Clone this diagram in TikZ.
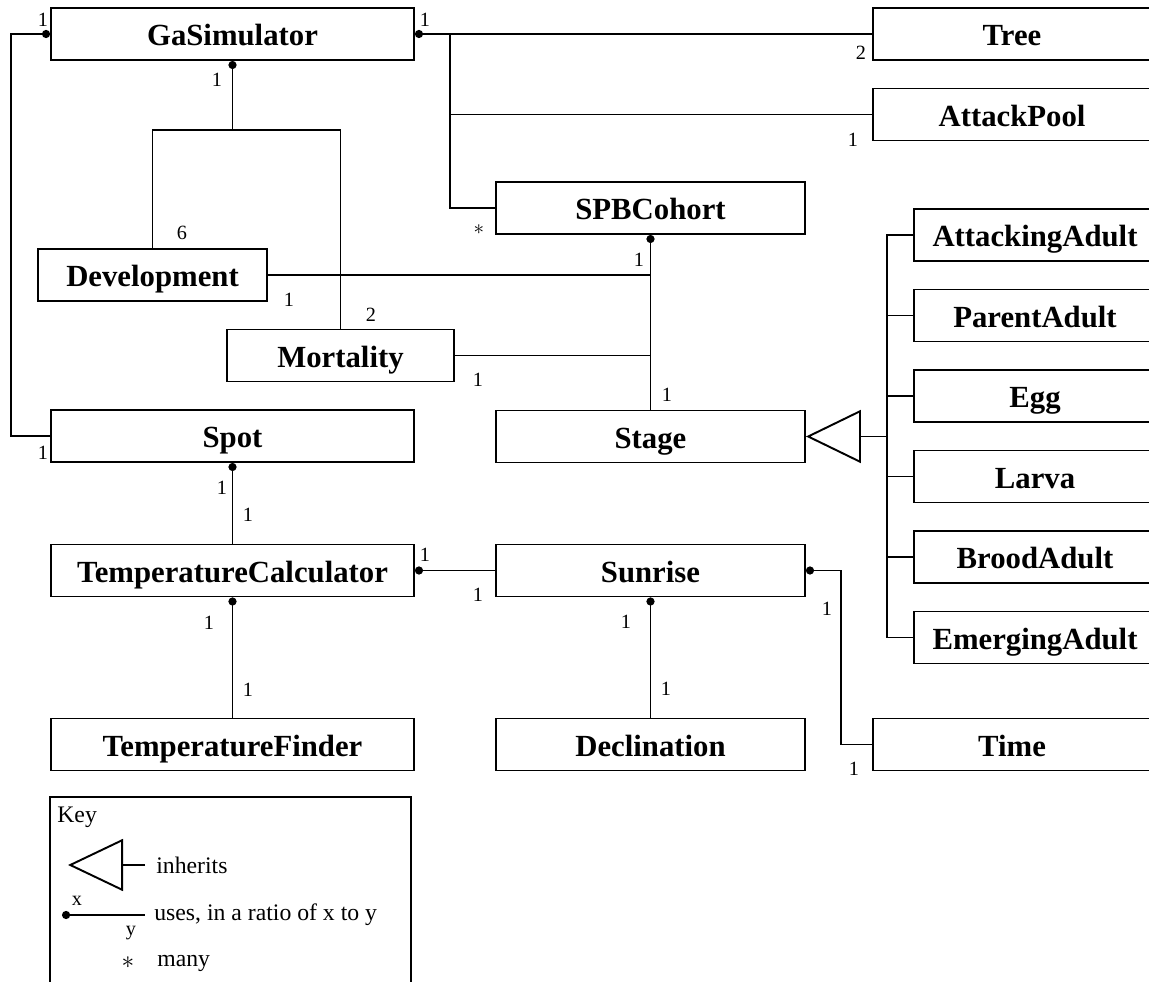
\documentclass[tikz,border=0pt]{standalone}
\usepackage{fontspec}
\setmainfont{Liberation Serif}
\usetikzlibrary{arrows.meta}

\tikzset{
  cls/.style={draw, line width=1.1pt, inner sep=0pt, minimum height=1.04cm,
    text height=15pt, text depth=1.4pt,
    font=\fontsize{17.5}{20}\selectfont\bfseries},
  wide/.style={cls, minimum width=7.26cm},
  mid/.style={cls, minimum width=6.18cm},
  far/.style={cls, minimum width=5.56cm},
  kid/.style={cls, minimum width=4.84cm},
  link/.style={line width=1.1pt},
  uses/.style={link, {Circle[length=4.6pt]}-},
  inherit/.style={link, -{Triangle[open, length=1.1cm, width=1.06cm]}},
  mult/.style={font=\fontsize{11.5}{13}\selectfont, inner sep=0pt},
  keytext/.style={font=\fontsize{13.5}{16}\selectfont, inner sep=0pt, anchor=west},
}

\begin{document}
\begin{tikzpicture}[x=0.02cm, y=-0.02cm]

            \useasboundingbox (0,0) rectangle (1149,982);
            \clip (0,0) rectangle (1149,982);

            % left column
            \node[wide] (gasim) at (232.5,34)  {GaSimulator};
            \node[wide] (spot)  at (232.5,436) {Spot};
            \node[wide] (tcalc) at (232.5,570.5) {TemperatureCalculator};
            \node[wide] (tfind) at (232.5,744.5) {TemperatureFinder};
            \node[cls, minimum width=4.58cm] (dev)  at (152.5,275)   {Development};
            \node[cls, minimum width=4.54cm] (mort) at (340.5,355.5) {Mortality};

            % middle column
            \node[mid] (spb)   at (650.5,208)   {SPBCohort};
            \node[mid] (stage) at (650.5,436.5) {Stage};
            \node[mid] (sun)   at (650.5,570.5) {Sunrise};
            \node[mid] (decl)  at (650.5,744.5) {Declination};

            % right column
            \node[far] (tree)   at (1012,34)    {Tree};
            \node[far] (attack) at (1012,114.5) {AttackPool};
            \node[far] (time)   at (1012,744.5) {Time};
            \foreach \name [count=\i] in {AttackingAdult,ParentAdult,Egg,Larva,BroodAdult,EmergingAdult} {
                \node[kid] (kid\i) at (1035,154.5+80.5*\i) {\name};
            }

            % uses
            \draw[uses] (gasim.west) -- ++(-39,0) |- (spot.west);
            \draw[uses] (gasim.east) -- (tree.west);
            \coordinate (trunk) at (450,34);
            \draw[link] (trunk) |- (attack.west);
            \draw[link] (trunk) |- (spb.west);
            \coordinate (fork) at (232.5,130);
            \draw[uses] (gasim.south) -- (fork);
            \draw[link] (dev.north) |- (fork) -| (mort.north);
            \draw[uses] (spb.south) -- (stage.north);
            \draw[link] (dev.east) -- (dev.east -| spb.south);
            \draw[link] (mort.east) -- (mort.east -| spb.south);
            \draw[uses] (spot.south) -- (tcalc.north);
            \draw[uses] (tcalc.east) -- (sun.west);
            \draw[uses] (tcalc.south) -- (tfind.north);
            \draw[uses] (sun.south) -- (decl.north);
            \draw[uses] (sun.east) -- ++(35,0) |- (time.west);

            % inherits
            \coordinate (bus) at (887,436.5);
            \draw[inherit] (bus) -- (stage.east);
            \draw[link] (kid1.west) -- (kid1.west -| bus) -- (kid6.west -| bus) -- (kid6.west);
            \foreach \k in {2,...,5} {
                \draw[link] (kid\k.west) -- (kid\k.west -| bus);
            }

            % multiplicities
            \foreach \x/\y/\t [count=\i] in {43/20/1, 425/20/1, 217/80/1, 861/53/2, 853/140/1,
                    479/230/$\ast$, 182/233/6, 639/260/1, 289/300/1, 371/315/2, 478/380/1,
                    667/395/1, 43/453/1, 222/488/1, 248/515/1, 425/555/1, 478/595/1,
                    209/623/1, 626/622/1, 827/609/1, 248/690/1, 666/689/1, 854/769/1} {
                \node[mult] (m\i) at (\x,\y) {\t};
            }

            % key
            \draw[line width=1pt] (50,797) rectangle (411,1000);
            \node[keytext] (keyhead) at (57,817) {Key};
            \node[keytext] (inhtxt) at (156,865) {inherits};
            \draw[link, -{Triangle[open, length=1.1cm, width=1.04cm]}]
                ([xshift=-0.22cm]inhtxt.west) -- ([xshift=-1.76cm]inhtxt.west);
            \node[keytext] (usetxt) at (154,915) {uses, in a ratio of x to y};
            \draw[uses] ([xshift=-1.84cm]usetxt.west) -- ([xshift=-0.18cm]usetxt.west);
            \node[mult] (keyx) at (77,901) {x};
            \node[mult] (keyy) at (131,933) {y};
            \node[mult, font=\fontsize{14}{16}\selectfont] (keystar) at (128,963) {$\ast$};
            \node[keytext] (manytxt) at (157,963) {many};

\end{tikzpicture}
\end{document}
